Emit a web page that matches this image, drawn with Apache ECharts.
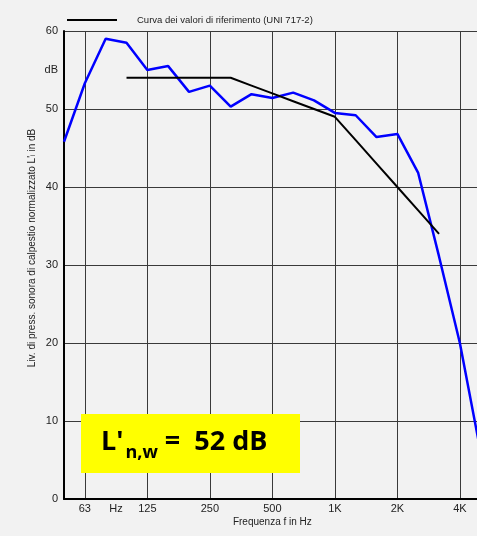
<!DOCTYPE html>
<html>
<head>
<meta charset="utf-8">
<script src="https://cdn.jsdelivr.net/npm/echarts@6/dist/echarts.min.js"></script>
<style>
html,body{margin:0;padding:0;background:#f2f2f2;}
#c{width:477px;height:536px;}
</style>
</head>
<body>
<div id="c"></div>
<script>
// Third-octave band centre frequencies (Hz)
const freqs = ['50','63','80','100','125','160','200','250','315','400','500','630','800','1000','1250','1600','2000','2500','3150','4000','5000'];
// Tick labels shown on the frequency axis
const tickLabels = {'63':'63','125':'125','250':'250','500':'500','1000':'1K','2000':'2K','4000':'4K'};
// Measured normalized impact sound level L'n (dB)
const measured = [45.8,53.3,59.0,58.5,55.0,55.5,52.2,53.0,50.3,51.9,51.4,52.1,51.1,49.5,49.2,46.4,46.8,41.8,31.1,20.0,6.0];
// Shifted reference curve (UNI 717-2)
const reference = [null,null,null,54,54,54,54,54,54,53,52,51,50,49,46,43,40,37,34,null,null];
const yTicks = [0,10,20,30,40,50,60];

const font = '"Liberation Sans", Arial, sans-serif';
const boxFont = '"Open Sans", "Noto Sans", sans-serif';
const chart = echarts.init(document.getElementById('c'), null, {renderer:'canvas'});
chart.setOption({
  backgroundColor:'#f2f2f2',
  animation:false,
  textStyle:{fontFamily:font},
  legend:{
    left:62, top:10,
    icon:'rect', itemWidth:50, itemHeight:2,
    data:['Curva dei valori di riferimento (UNI 717-2)'],
    textStyle:{fontSize:9.5, color:'#222', padding:[0,0,0,15], fontFamily:font}
  },
  grid:{left:64, top:31, width:416.7, height:468, containLabel:false, outerBoundsMode:'none'},
  xAxis:[{
    type:'category', data:freqs, boundaryGap:false,
    name:'Frequenza f in Hz', nameLocation:'middle', nameGap:18, nameMoveOverlap:false,
    nameTextStyle:{fontSize:10, color:'#222', fontFamily:font},
    axisLine:{show:true, onZero:false, lineStyle:{color:'#000', width:2}},
    axisTick:{show:false},
    axisLabel:{interval:0, margin:4, fontSize:11, color:'#222', fontFamily:font,
      formatter:v=>tickLabels[v]||''},
    splitLine:{show:true, interval:(i,v)=>tickLabels[v]!==undefined, lineStyle:{color:'#3a3a3a', width:1}}
  },{
    type:'value', min:0, max:20, interval:0.5, position:'bottom',
    axisLine:{show:false}, axisTick:{show:false}, splitLine:{show:false},
    axisLabel:{margin:4, fontSize:11, color:'#222', fontFamily:font,
      formatter:v=>(v===2.5?'Hz':'')}
  }],
  yAxis:[{
    type:'value', min:0, max:60, interval:10,
    name:"Liv. di press. sonora di calpestio normalizzato L'{s|i} in dB",
    nameLocation:'middle', nameGap:27, nameMoveOverlap:false,
    nameTextStyle:{fontSize:10, color:'#222', fontFamily:font, padding:[0,0,0,34],
      rich:{s:{fontSize:7, verticalAlign:'bottom', color:'#222', fontFamily:font}}},
    axisLine:{show:true, onZero:false, lineStyle:{color:'#000', width:2}},
    axisTick:{show:false},
    axisLabel:{margin:6, fontSize:11, color:'#222', fontFamily:font,
      formatter:v=>(yTicks.indexOf(v)>=0?String(v):'')},
    splitLine:{show:true, lineStyle:{color:'#3a3a3a', width:1}}
  },{
    type:'value', min:0, max:60, interval:5, position:'left',
    axisLine:{show:false}, axisTick:{show:false}, splitLine:{show:false},
    axisLabel:{margin:6, fontSize:11, color:'#222', fontFamily:font,
      formatter:v=>(v===55?'dB':'')}
  }],
  series:[{
    name:'Misura', type:'line', data:measured, xAxisIndex:0, yAxisIndex:0,
    symbol:'none', lineStyle:{color:'#0000ff', width:2.5}, itemStyle:{color:'#0000ff'}, z:3
  },{
    name:'Curva dei valori di riferimento (UNI 717-2)', type:'line', data:reference,
    xAxisIndex:0, yAxisIndex:0,
    symbol:'none', connectNulls:false, lineStyle:{color:'#000', width:2}, itemStyle:{color:'#000'}, z:4
  }],
  graphic:[{
    type:'rect', left:81, top:414, z:10,
    shape:{width:219, height:59}, style:{fill:'#ffff00'}
  },{
    type:'text', x:101, y:442, z:11,
    style:{
      text:"{a|L'}{b|n,w}{a| =  52 dB}",
      verticalAlign:'middle',
      rich:{
        a:{fontSize:27, fontWeight:'bold', fontFamily:boxFont, fill:'#000', lineHeight:40},
        b:{fontSize:18, fontWeight:'bold', fontFamily:boxFont, fill:'#000', lineHeight:18, verticalAlign:'bottom', padding:[0,0,0,2]}
      }
    }
  }]
});
</script>
</body>
</html>
